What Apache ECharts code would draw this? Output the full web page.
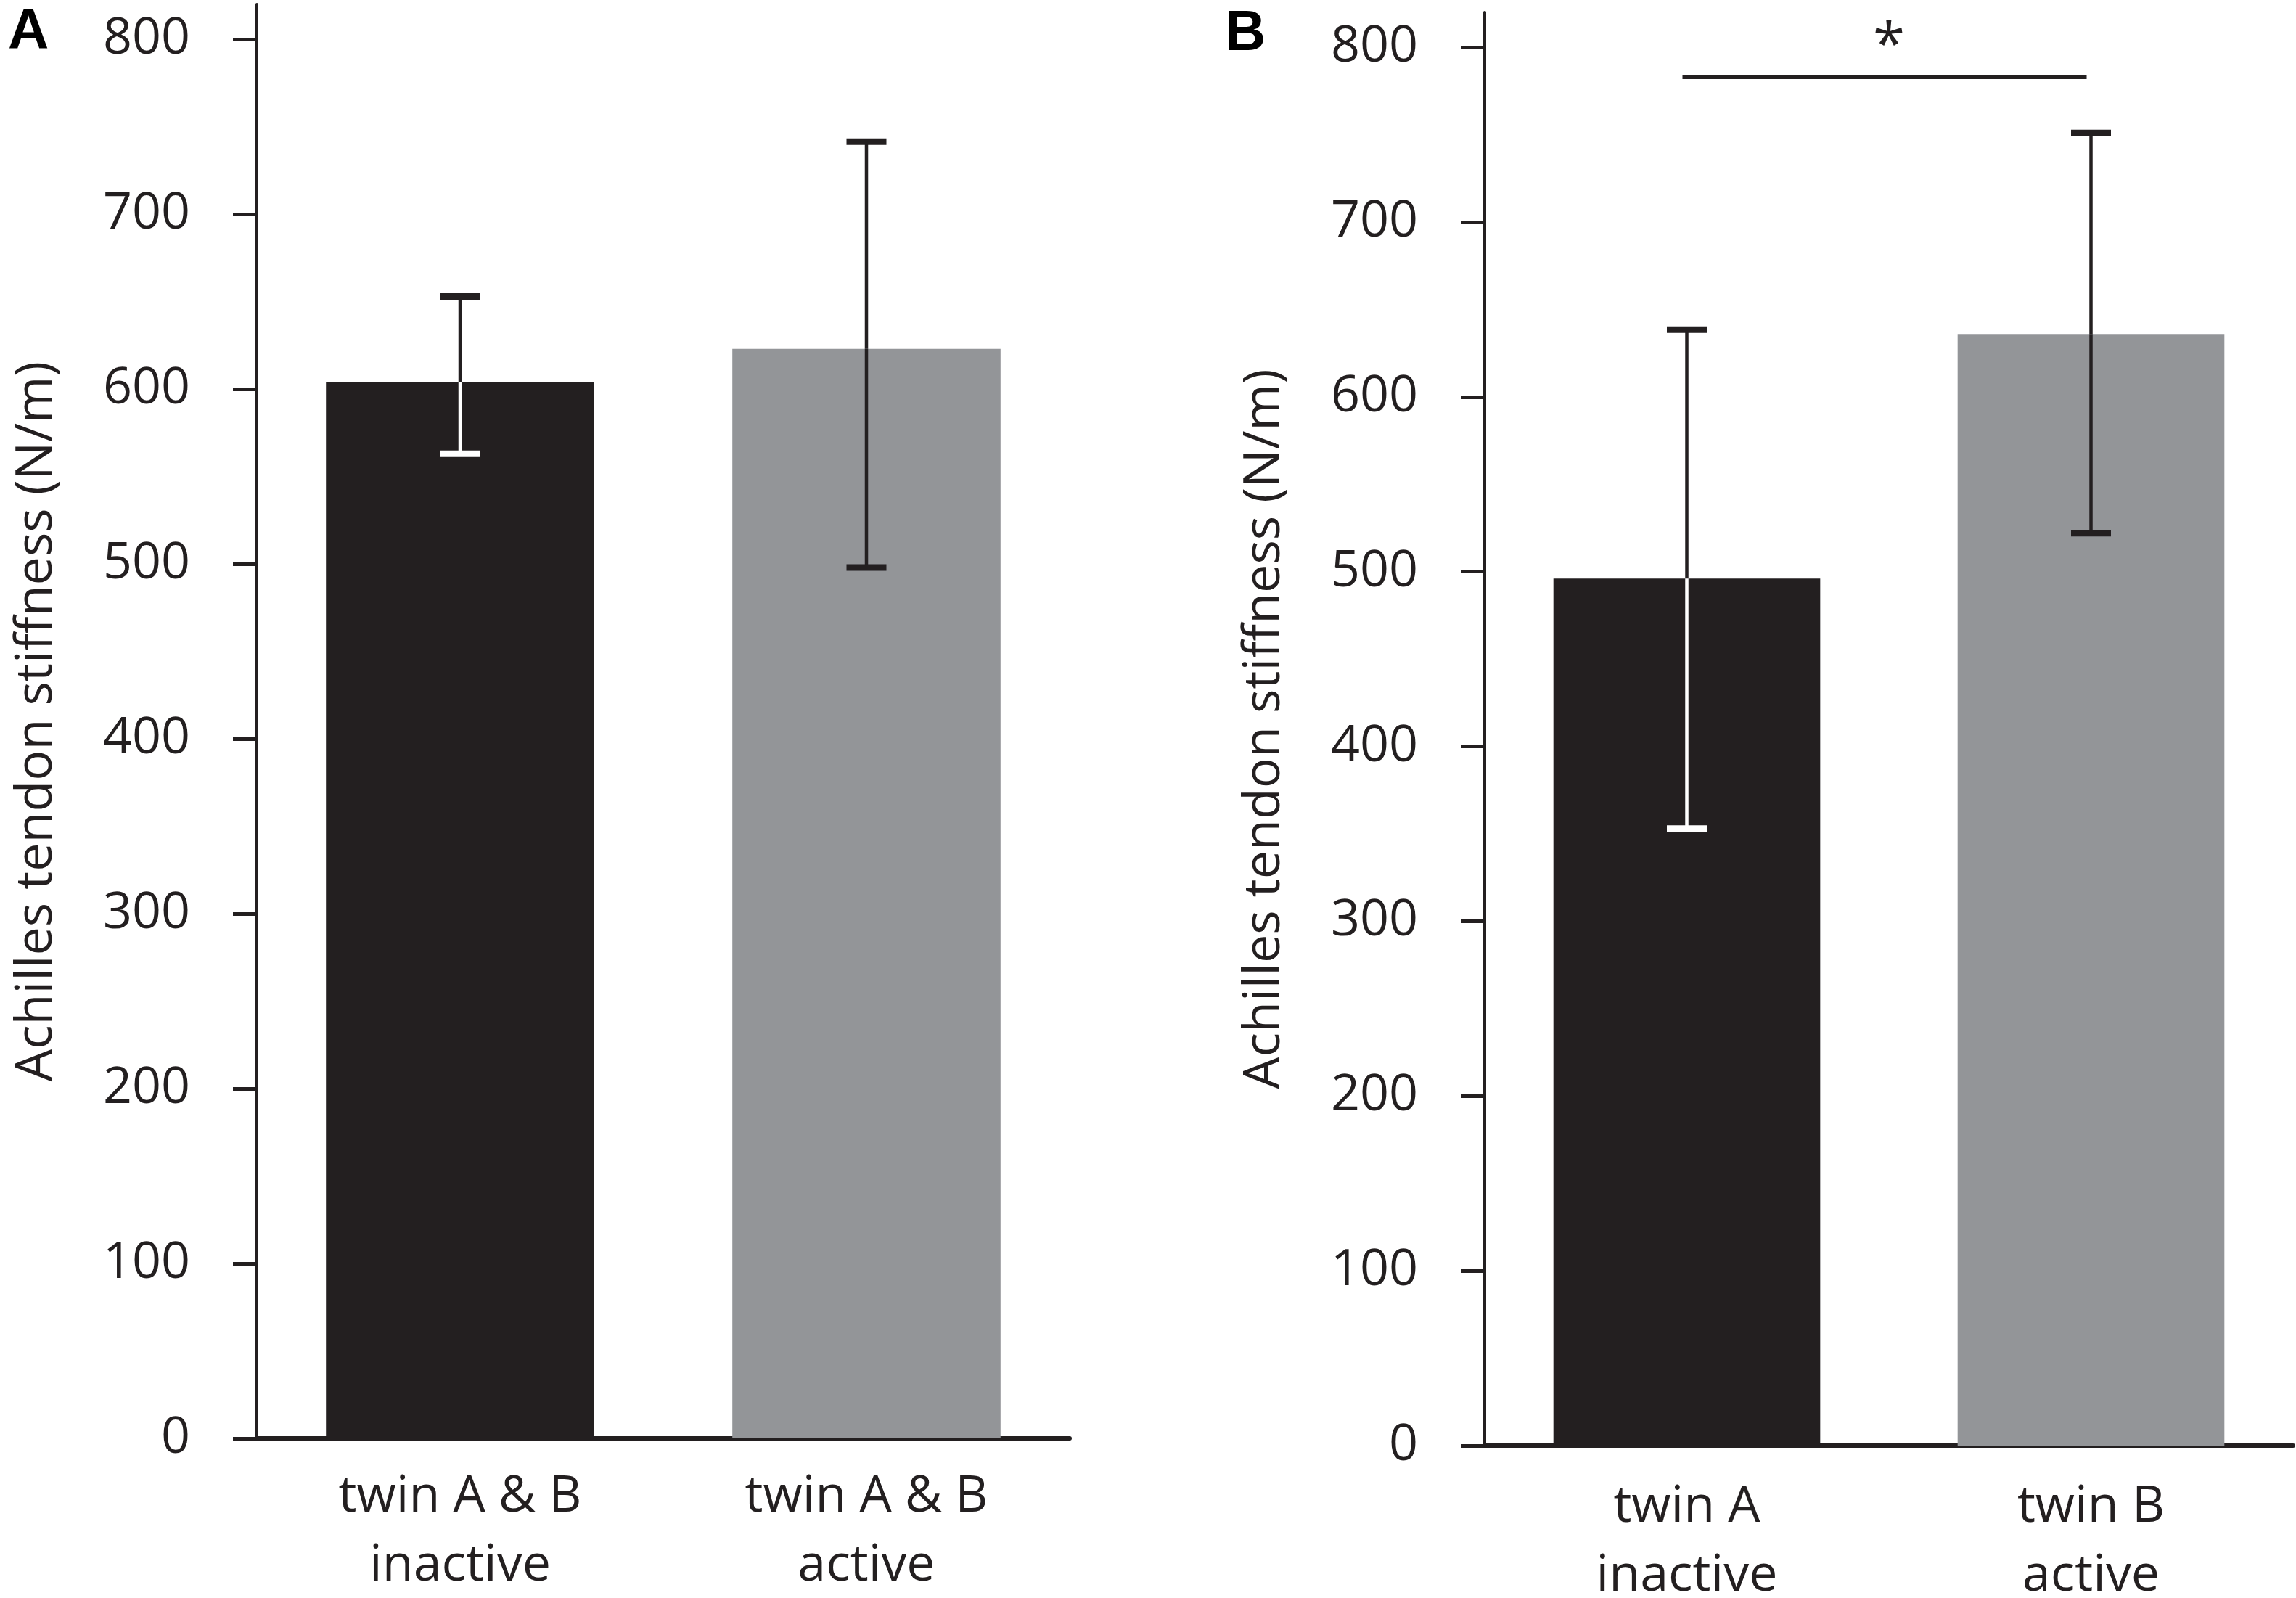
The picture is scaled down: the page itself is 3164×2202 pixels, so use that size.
<!DOCTYPE html>
<html>
<head>
<meta charset="utf-8">
<script src="https://cdn.jsdelivr.net/npm/echarts@6/dist/echarts.min.js"></script>
<style>
  html, body { margin: 0; padding: 0; background: #ffffff; }
  #chart { width: 3164px; height: 2202px; }
</style>
</head>
<body>
<div id="chart"></div>
<script>
// ---- data ----
const categoriesA = ['twin A & B\ninactive', 'twin A & B\nactive'];
const meanA = [604, 623];
const lowA = [563, 498];
const highA = [653, 741.5];

const categoriesB = ['twin A\ninactive', 'twin B\nactive'];
const meanB = [496, 636];
const lowB = [353, 522];
const highB = [638.5, 751];

const yTickValues = [0, 100, 200, 300, 400, 500, 600, 700, 800];
const yAxisTitle = 'Achilles tendon stiffness (N/m)';

// significance bracket in panel B: [fromCategory, toCategory, lineValue, starValue]
const sigFrom = [0];
const sigTo = [1];
const sigLineValue = [783];
const sigStarValue = [800];
const sigText = ['*'];

// ---- styling ----
const INK = '#231f20';
const barColors = ['#231f20', '#939598'];
const FONT = '"Open Sans", "Noto Sans", sans-serif';
const FS = 70;

const chart = echarts.init(document.getElementById('chart'), null, { renderer: 'canvas' });

function xAxisCfg(gridIndex, cats, margin) {
  return {
    type: 'category', gridIndex: gridIndex, data: cats,
    axisLine: { show: true, lineStyle: { color: INK, width: 6 } },
    axisTick: { show: false },
    axisLabel: { interval: 0, color: INK, fontFamily: FONT, fontSize: FS, lineHeight: 95, margin: margin },
    splitLine: { show: false }
  };
}
function yAxisCfg(gridIndex) {
  return {
    type: 'value', gridIndex: gridIndex, min: 0, max: 820, interval: 100,
    axisLine: { show: true, lineStyle: { color: INK, width: 4 } },
    axisTick: { show: true, length: 33, lineStyle: { color: INK, width: 5 }, customValues: yTickValues },
    axisLabel: { color: INK, fontFamily: FONT, fontSize: FS, margin: 92, customValues: yTickValues },
    splitLine: { show: false },
    name: yAxisTitle, nameLocation: 'middle', nameGap: 268,
    nameTextStyle: { color: INK, fontFamily: FONT, fontSize: FS }
  };
}

function errData(mean, low, high) {
  return mean.map((m, i) => [i, m, low[i], high[i]]);
}

function renderError(params, api) {
  const i = api.value(0);
  const pMean = api.coord([i, api.value(1)]);
  const pLow = api.coord([i, api.value(2)]);
  const pHigh = api.coord([i, api.value(3)]);
  const c = pMean[0];
  const inner = (barColors[i] === '#231f20') ? '#ffffff' : INK;
  const half = 27.5, capH = 9, lw = 4.5;
  return {
    type: 'group',
    children: [
      { type: 'line', shape: { x1: c, y1: pHigh[1], x2: c, y2: pMean[1] }, style: { stroke: INK, lineWidth: lw } },
      { type: 'line', shape: { x1: c, y1: pMean[1], x2: c, y2: pLow[1] }, style: { stroke: inner, lineWidth: lw } },
      { type: 'rect', shape: { x: c - half, y: pHigh[1] - capH / 2, width: 2 * half, height: capH }, style: { fill: INK } },
      { type: 'rect', shape: { x: c - half, y: pLow[1] - capH / 2, width: 2 * half, height: capH }, style: { fill: inner } }
    ]
  };
}

function renderSig(params, api) {
  const p1 = api.coord([api.value(0), api.value(2)]);
  const p2 = api.coord([api.value(1), api.value(2)]);
  const ps = api.coord([api.value(0), api.value(3)]);
  const mid = (p1[0] + p2[0]) / 2;
  return {
    type: 'group',
    children: [
      { type: 'line', shape: { x1: p1[0] - 6, y1: p1[1], x2: p2[0] - 6, y2: p2[1] }, style: { stroke: INK, lineWidth: 6 } },
      { type: 'text', x: mid, y: ps[1], style: { text: sigText[params.dataIndex], fill: INK, font: '80px ' + FONT, align: 'center', verticalAlign: 'middle' } }
    ]
  };
}

const option = {
  backgroundColor: '#ffffff',
  animation: false,
  grid: [
    { left: 354, top: 6, width: 1120, bottom: 220, outerBoundsMode: 'none', containLabel: false },
    { left: 2046, top: 17, right: 4, bottom: 210, outerBoundsMode: 'none', containLabel: false }
  ],
  xAxis: [xAxisCfg(0, categoriesA, 34), xAxisCfg(1, categoriesB, 38)],
  yAxis: [yAxisCfg(0), yAxisCfg(1)],
  graphic: [
    { type: 'text', x: 11, y: 45, style: { text: 'A', fill: '#000', font: 'bold 78px "Liberation Sans", Arial, sans-serif', align: 'left', verticalAlign: 'middle' } },
    { type: 'text', x: 1688, y: 47, style: { text: 'B', fill: '#000', font: 'bold 78px "Liberation Sans", Arial, sans-serif', align: 'left', verticalAlign: 'middle' } }
  ],
  series: [
    {
      type: 'bar', xAxisIndex: 0, yAxisIndex: 0, barCategoryGap: '34%',
      data: meanA.map((v, i) => ({ value: v, itemStyle: { color: barColors[i] } })),
      z: 1
    },
    {
      type: 'custom', xAxisIndex: 0, yAxisIndex: 0, renderItem: renderError,
      data: errData(meanA, lowA, highA), z: 5
    },
    {
      type: 'bar', xAxisIndex: 1, yAxisIndex: 1, barCategoryGap: '34%',
      data: meanB.map((v, i) => ({ value: v, itemStyle: { color: barColors[i] } })),
      z: 1
    },
    {
      type: 'custom', xAxisIndex: 1, yAxisIndex: 1, renderItem: renderError,
      data: errData(meanB, lowB, highB), z: 5
    },
    {
      type: 'custom', xAxisIndex: 1, yAxisIndex: 1, renderItem: renderSig,
      data: sigFrom.map((f, i) => [f, sigTo[i], sigLineValue[i], sigStarValue[i]]), z: 5
    }
  ]
};
chart.setOption(option);
</script>
</body>
</html>
